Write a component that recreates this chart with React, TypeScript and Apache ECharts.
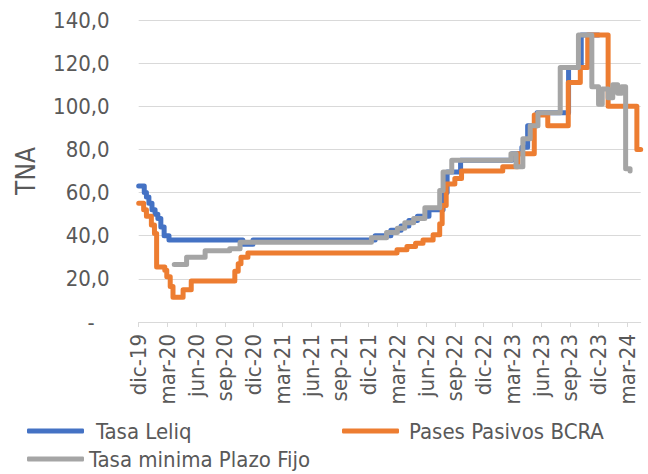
import React, { useEffect, useRef } from "react";
import * as echarts from "echarts";

// Quarter tick labels on the x axis (month index 0 = dic-19, every 3 months)
const TICK_LABELS = [
  "dic-19", "mar-20", "jun-20", "sep-20", "dic-20", "mar-21", "jun-21", "sep-21",
  "dic-21", "mar-22", "jun-22", "sep-22", "dic-22", "mar-23", "jun-23", "sep-23",
  "dic-23", "mar-24",
];

// Step change points: date from which the rate applies, and the rate (TNA %)
const leliqDates = [
  "2019-12-01", "2019-12-19", "2019-12-26", "2020-01-03", "2020-01-13", "2020-01-23",
  "2020-02-01", "2020-02-10", "2020-02-20", "2020-03-06", "2020-10-28", "2020-11-29",
  "2021-12-22", "2022-02-10", "2022-03-13", "2022-04-07", "2022-05-04", "2022-06-10",
  "2022-07-25", "2022-08-07", "2022-09-19", "2023-02-28", "2023-04-01", "2023-04-19",
  "2023-05-19", "2023-08-28", "2023-10-07", "2023-12-01",
];
const leliqValues = [
  63, 60, 58, 55, 52, 50,
  48, 44, 40, 38, 36, 38,
  40, 42.5, 44.5, 47, 49, 52,
  60, 69.5, 75, 78, 81, 91,
  97, 118, 133, 133,
];

const pasesDates = [
  "2019-12-01", "2019-12-17", "2019-12-26", "2020-01-11", "2020-01-21", "2020-01-28",
  "2020-02-22", "2020-02-28", "2020-03-10", "2020-03-19", "2020-04-20", "2020-05-16",
  "2020-10-02", "2020-10-13", "2020-10-22", "2020-11-13", "2022-02-28", "2022-04-01",
  "2022-04-28", "2022-05-22", "2022-06-23", "2022-07-14", "2022-07-22", "2022-08-04",
  "2022-09-01", "2022-09-22", "2023-02-01", "2023-03-19", "2023-05-10", "2023-06-22",
  "2023-08-27", "2023-10-04", "2023-10-28", "2024-01-01", "2024-04-01", "2024-04-13",
];
const pasesValues = [
  55, 52, 49, 45, 41, 25.5,
  24, 21, 16.5, 11.5, 15, 19,
  23.5, 27, 30, 32, 33.5, 35,
  36.5, 38, 40.5, 45.5, 54, 64,
  66.5, 70, 72, 78, 96, 91,
  111, 118, 133, 100, 80, 80,
];

const plazoDates = [
  "2020-03-23", "2020-05-01", "2020-06-29", "2020-09-16", "2020-10-19", "2021-12-10",
  "2022-01-28", "2022-03-01", "2022-03-25", "2022-04-22", "2022-05-28", "2022-07-14",
  "2022-07-25", "2022-08-22", "2023-02-25", "2023-03-13", "2023-04-04", "2023-04-27",
  "2023-05-22", "2023-08-01", "2023-09-28", "2023-11-10", "2023-12-01", "2023-12-13",
  "2024-01-01", "2024-01-16", "2024-02-01", "2024-02-13", "2024-02-25", "2024-03-10",
];
const plazoValues = [
  26.6, 30, 33, 34, 37, 39,
  41.5, 43.5, 46, 48, 53, 61,
  69.5, 75, 78, 72, 85, 91,
  97, 118, 133, 109, 101, 108,
  104, 110, 106, 109, 71, 70,
];

const X_MAX = 52.4;
const TEXT = "#595959";
const GRID = "#d9d9d9";
const FONT = "'DejaVu Sans Condensed', 'Liberation Sans', sans-serif";

// month index since 1 Dec 2019
function monthIndex(s: string): number {
  const [y, m, d] = s.split("-").map(Number);
  const dim = new Date(y, m, 0).getDate();
  return (y - 2019) * 12 + (m - 12) + (d - 1) / dim;
}
function toSeries(dates: string[], values: number[]) {
  return dates.map((d, i) => [monthIndex(d), values[i]]);
}

export default function App() {
  const ref = useRef<HTMLDivElement>(null);
  useEffect(() => {
    if (!ref.current) return;
    const chart = echarts.init(ref.current, undefined, { renderer: "svg" });
    const tickVals = TICK_LABELS.map((_, i) => i * 3);
    const lineStyle = (color: string) => ({ color, width: 5, cap: "round", join: "round" });
    const legendCommon = {
      orient: "horizontal",
      padding: 0,
      itemWidth: 57,
      itemHeight: 5,
      icon: "roundRect",
      selectedMode: false,
    };
    chart.setOption({
      animation: false,
      textStyle: { fontFamily: FONT },
      grid: { left: 138.7, right: 7.3, top: 20, bottom: 152, containLabel: false, outerBoundsMode: "none" },
      legend: [
        { ...legendCommon, data: ["Tasa Leliq"], left: 27, top: 420, textStyle: { fontFamily: FONT, fontSize: 22, color: TEXT, padding: [0, 0, 0, 7] } },
        { ...legendCommon, data: ["Pases Pasivos BCRA"], left: 342, top: 420, textStyle: { fontFamily: FONT, fontSize: 22, color: TEXT, padding: [0, 0, 0, 5] } },
        { ...legendCommon, data: ["Tasa minima Plazo Fijo"], left: 27, top: 448, textStyle: { fontFamily: FONT, fontSize: 22, color: TEXT } },
      ],
      xAxis: {
        type: "value",
        min: 0,
        max: X_MAX,
        interval: 3,
        axisLine: { lineStyle: { color: GRID, width: 1 } },
        axisTick: { show: true, length: 5, customValues: tickVals, lineStyle: { color: GRID } },
        splitLine: { show: false },
        axisLabel: {
          customValues: tickVals,
          rotate: 90,
          margin: 12,
          fontFamily: FONT,
          fontSize: 22,
          color: TEXT,
          formatter: (v: number) => {
            const i = Math.round(v / 3);
            return Math.abs(v - i * 3) < 1e-6 && TICK_LABELS[i] ? TICK_LABELS[i] : "";
          },
        },
      },
      yAxis: {
        type: "value",
        min: 0,
        max: 140,
        interval: 20,
        name: "TNA",
        nameLocation: "middle",
        nameRotate: 90,
        nameGap: 100,
        nameTextStyle: { fontFamily: FONT, fontSize: 26, color: TEXT },
        axisLine: { show: false },
        axisTick: { show: false },
        splitLine: { lineStyle: { color: GRID, width: 1 } },
        axisLabel: {
          margin: 29,
          fontFamily: FONT,
          fontSize: 22,
          color: TEXT,
          formatter: (v: number) => (v === 0 ? "{d|-}" : v.toFixed(1).replace(".", ",")),
          rich: { d: { padding: [0, 15, 0, 0], fontFamily: FONT, fontSize: 22, color: TEXT } },
        },
      },
      series: [
        {
          name: "Tasa Leliq",
          type: "line",
          step: "end",
          symbol: "none",
          silent: true,
          color: "#4472C4",
          lineStyle: lineStyle("#4472C4"),
          data: toSeries(leliqDates, leliqValues),
        },
        {
          name: "Pases Pasivos BCRA",
          type: "line",
          step: "end",
          symbol: "none",
          silent: true,
          color: "#ED7D31",
          lineStyle: lineStyle("#ED7D31"),
          data: toSeries(pasesDates, pasesValues),
        },
        {
          name: "Tasa minima Plazo Fijo",
          type: "line",
          step: "end",
          symbol: "none",
          silent: true,
          color: "#A5A5A5",
          lineStyle: lineStyle("#A5A5A5"),
          data: toSeries(plazoDates, plazoValues),
        },
      ],
    });
    return () => chart.dispose();
  }, []);
  return <div ref={ref} style={{ width: 648, height: 474, position: "absolute", left: 0, top: 0 }} />;
}
